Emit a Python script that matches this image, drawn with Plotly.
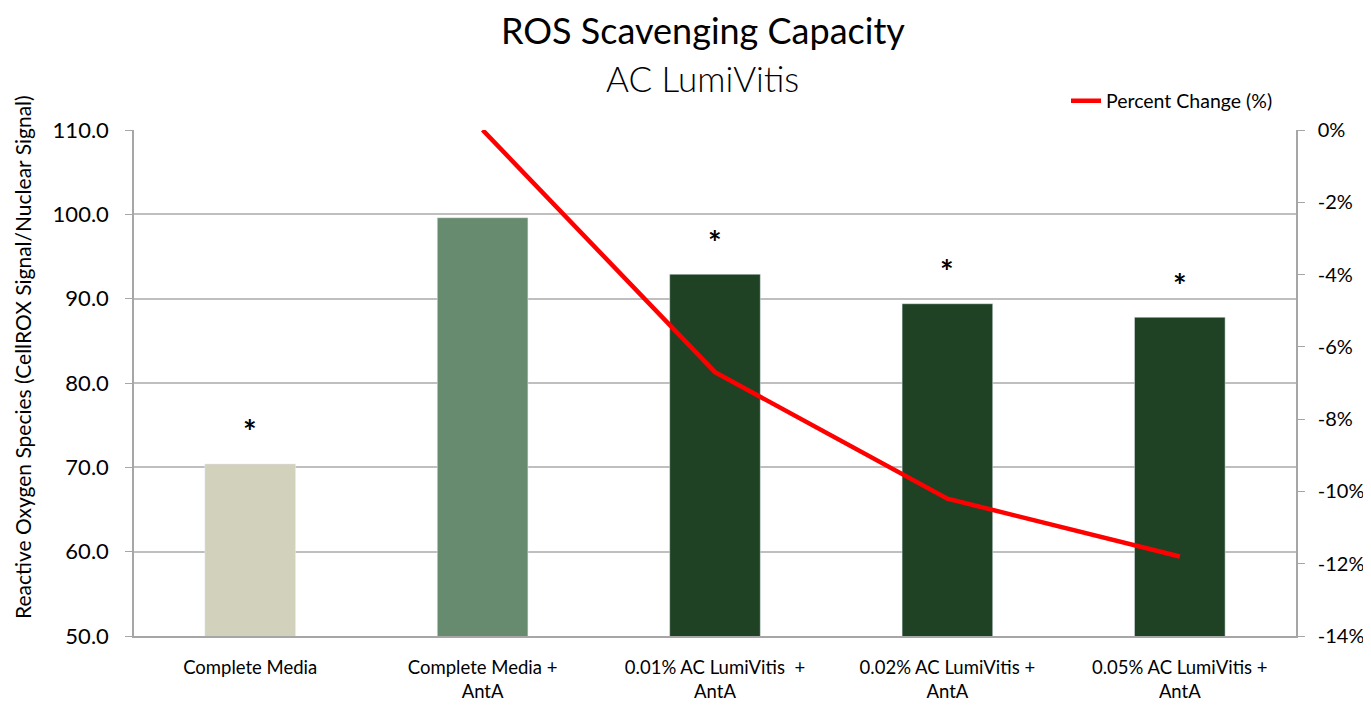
import plotly.graph_objects as go

categories = ["Complete Media", "Complete Media +<br>AntA", "0.01% AC LumiVitis  +<br>AntA",
              "0.02% AC LumiVitis +<br>AntA", "0.05% AC LumiVitis +<br>AntA"]
ros_values = [70.4, 99.6, 92.9, 89.4, 87.8]
bar_colors = ["#D1D1BC", "#678B6E", "#1F4224", "#1F4224", "#1F4224"]
pct_change = [None, 0.0, -6.7, -10.2, -11.8]
significant = [True, False, True, True, True]
left_ticks = [50, 60, 70, 80, 90, 100, 110]
left_labels = ["50.0", "60.0", "70.0", "80.0", "90.0", "100.0", "110.0"]
right_ticks = [0, -2, -4, -6, -8, -10, -12, -14]
right_labels = ["0%", "-2%", "-4%", "-6%", "-8%", "-10%", "-12%", "-14%"]

FONT = "Lato"
W, H = 1363, 699  # page body has 8px margin
ML, MR, MT, MB = 126, 75, 122, 71
PW, PH = W - ML - MR, H - MT - MB


def px_x(x):  # page pixel -> paper x
    return (x - 8 - ML) / PW


def px_y(y):  # page pixel -> paper y
    return 1 - (y - 8 - MT) / PH


fig = go.Figure()
fig.add_trace(go.Bar(x=categories, y=ros_values, marker_color=bar_colors, showlegend=False,
                     width=0.39, yaxis="y"))
fig.add_trace(go.Scatter(x=categories, y=pct_change, mode="lines", name="Percent Change (%)",
                         line=dict(color="#FF0000", width=4.5), yaxis="y2"))

for c, v, s in zip(categories, ros_values, significant):
    if s:
        fig.add_annotation(x=c, y=v, text="<b>*</b>", showarrow=False, yref="y", xref="x",
                           yanchor="middle", yshift=32, font=dict(size=32, color="#000", family=FONT))

fig.add_annotation(text="ROS Scavenging Capacity", x=px_x(703), y=px_y(30), xref="paper", yref="paper",
                   yanchor="middle", showarrow=False, font=dict(size=36, family=FONT, color="#000"))
fig.add_annotation(text="AC LumiVitis", x=px_x(702), y=px_y(78), xref="paper", yref="paper",
                   yanchor="middle", showarrow=False,
                   font=dict(size=35, family=FONT, color="#000", weight=300))
fig.add_annotation(text="Reactive Oxygen Species (CellROX Signal/Nuclear Signal)", textangle=-90,
                   x=px_x(22), y=px_y(357), xref="paper", yref="paper", xanchor="center",
                   yanchor="middle", showarrow=False, font=dict(size=21, family=FONT, color="#000"))

fig.update_layout(
    width=W, height=H,
    margin=dict(l=ML, r=MR, t=MT, b=MB),
    paper_bgcolor="white", plot_bgcolor="white",
    font=dict(family=FONT, color="#000"),
    xaxis=dict(showline=True, linecolor="#A6A6A6", linewidth=1.5, ticks="outside", ticklen=14,
               tickcolor="rgba(0,0,0,0)", tickfont=dict(size=18.5, family=FONT), showgrid=False,
               automargin=False),
    yaxis=dict(range=[50, 110], tickvals=left_ticks, ticktext=left_labels, showgrid=True,
               gridcolor="#BFBFBF", gridwidth=1.5, showline=True, linecolor="#A6A6A6", linewidth=1.5,
               ticks="outside", ticklen=7, tickcolor="#A6A6A6", ticklabelstandoff=12,
               tickfont=dict(size=22, family=FONT), zeroline=False, automargin=False),
    yaxis2=dict(range=[-14, 0], tickvals=right_ticks, ticktext=right_labels, overlaying="y",
                side="right", showgrid=False, showline=True, linecolor="#A6A6A6", linewidth=1.5,
                ticks="outside", ticklen=7, tickcolor="#A6A6A6", ticklabelstandoff=9,
                tickfont=dict(size=20, family=FONT), zeroline=False, automargin=False),
    legend=dict(x=px_x(1278), y=px_y(101), xanchor="right", yanchor="middle", orientation="h",
                font=dict(size=19.5, family=FONT), bgcolor="rgba(0,0,0,0)"),
)
fig.write_html("out.html")
